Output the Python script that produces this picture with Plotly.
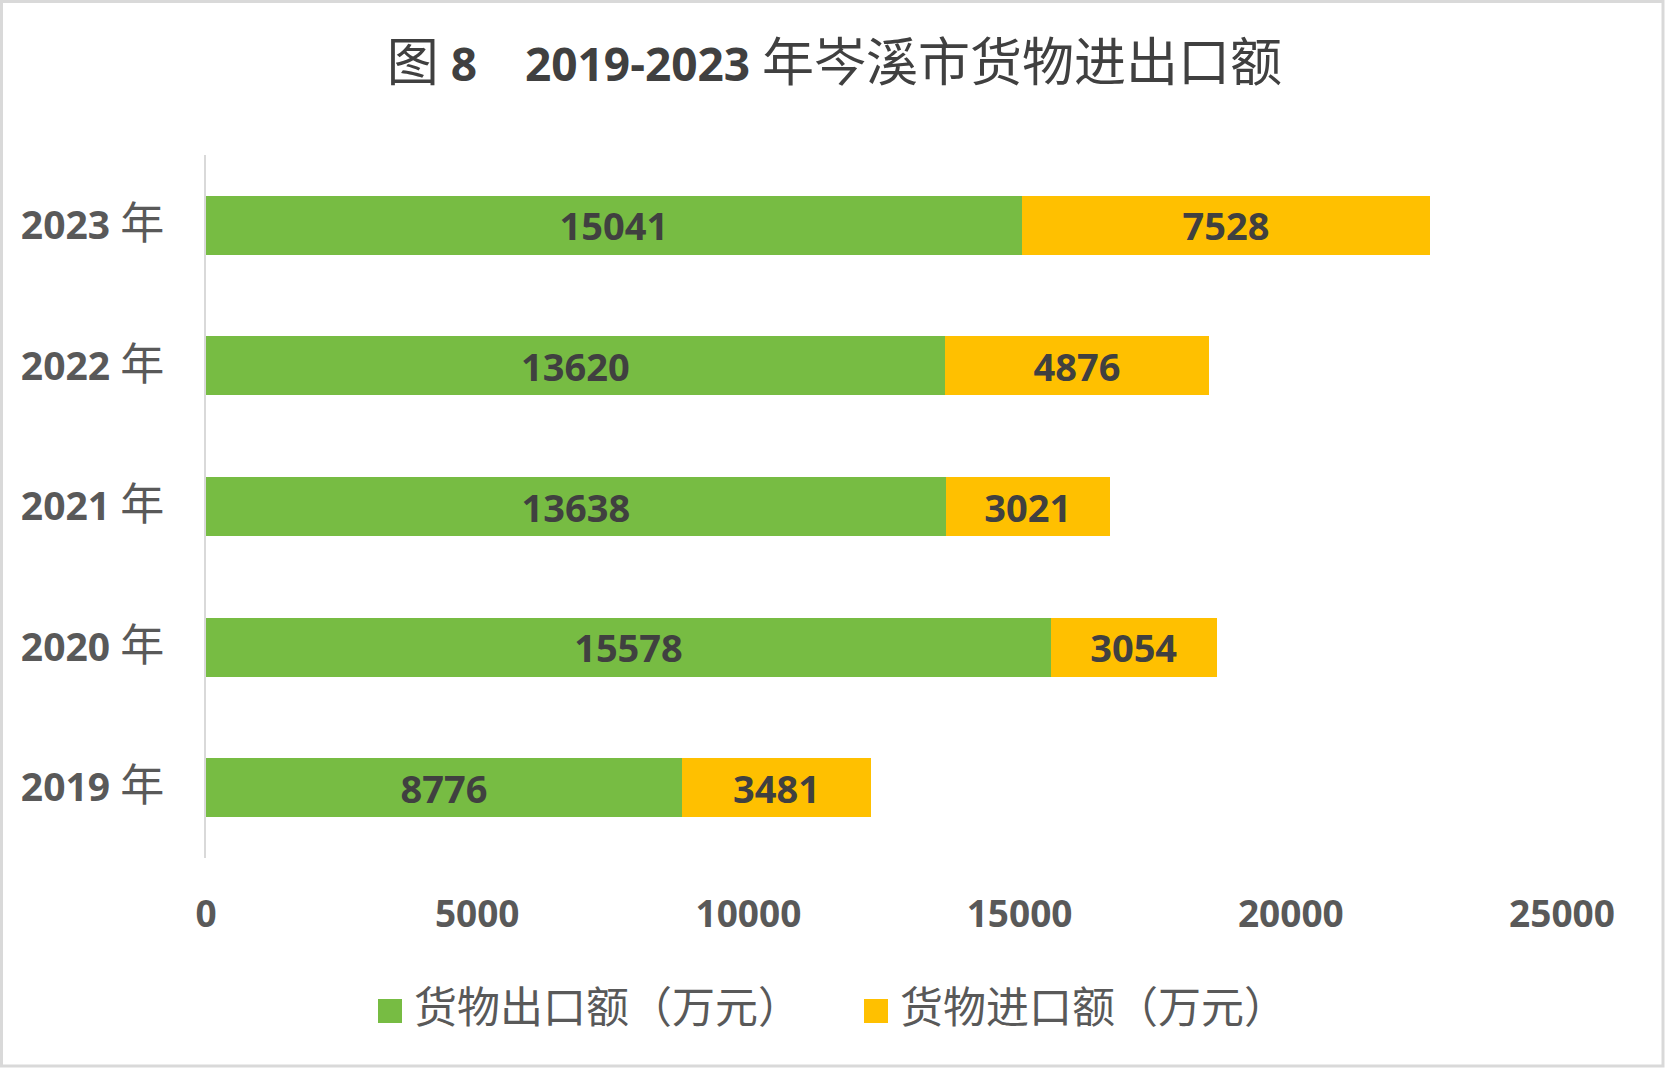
import plotly.graph_objects as go

years = ["2019", "2020", "2021", "2022", "2023"]
export_vals = [8776, 15578, 13638, 13620, 15041]
import_vals = [3481, 3054, 3021, 4876, 7528]
series_names = ["货物出口额（万元）", "货物进口额（万元）"]
series_colors = ["#77BC43", "#FFC000"]
x_ticks = [0, 5000, 10000, 15000, 20000, 25000]

CJK_BIG = '<span style="font-size:52px">{}</span>'
title_text = (CJK_BIG.format("图") + " <b>8</b>&nbsp;&nbsp;&nbsp; <b>2019-2023</b> "
              + CJK_BIG.format("年岑溪市货物进出口额"))

cats = [f"{y} 年" for y in years]
cat_text = [f'<b>{y}</b> <span style="font-size:44px">年</span>' for y in years]

W, H = 1669, 1074
L, R, T, B = 206, 107, 155, 216

font_fam = "Open Sans, Noto Sans CJK SC, sans-serif"
label_font = dict(family=font_fam, size=38, color="#404040")

fig = go.Figure()
for name, vals, col in zip(series_names, [export_vals, import_vals], series_colors):
    fig.add_trace(go.Bar(
        y=cats, x=vals, orientation="h", name=name,
        marker=dict(color=col, line=dict(width=0)),
        text=[f"<b>{v}</b>" for v in vals], textposition="inside",
        insidetextanchor="middle", textangle=0, textfont=label_font,
        hoverinfo="x+name", showlegend=False,
    ))

pw = W - L - R
ph = H - T - B
def px_x(p):
    return (p - L) / pw
def px_y(p):
    return (H - B - p) / ph

shapes = [dict(type="rect", xref="paper", yref="paper",
               x0=px_x(1.5), x1=px_x(1663), y0=px_y(1066), y1=px_y(1.5),
               line=dict(color="#D9D9D9", width=3), fillcolor="rgba(0,0,0,0)",
               layer="below")]
annotations = []
# legend (custom, to get Excel-sized square keys)
legend_keys_x = [378, 864]
for name, col, kx in zip(series_names, series_colors, legend_keys_x):
    shapes.append(dict(type="rect", xref="paper", yref="paper",
                       x0=px_x(kx), x1=px_x(kx + 24), y0=px_y(1023), y1=px_y(999),
                       line=dict(width=0), fillcolor=col))
    annotations.append(dict(xref="paper", yref="paper", x=px_x(kx + 34), y=px_y(1004),
                            xanchor="left", yanchor="middle", showarrow=False,
                            text=name,
                            font=dict(family="Noto Sans CJK SC, sans-serif", size=43,
                                      color="#595959")))

fig.update_layout(
    width=W, height=H,
    margin=dict(l=L, r=R, t=T, b=B, autoexpand=False),
    paper_bgcolor="white", plot_bgcolor="white",
    barmode="stack", bargap=0.58,
    showlegend=False,
    title=dict(text=title_text, x=0.5, xref="container", xanchor="center",
               y=1 - 65 / H, yref="container", yanchor="middle",
               font=dict(family=font_fam, size=46, color="#404040")),
    xaxis=dict(range=[0, 25000], tickvals=x_ticks,
               ticktext=[f"<b>{v}</b>" for v in x_ticks],
               showgrid=False, zeroline=False, showline=False,
               ticks="", ticklabelstandoff=31,
               tickfont=dict(family=font_fam, size=37, color="#595959"),
               fixedrange=True),
    yaxis=dict(categoryorder="array", categoryarray=cats,
               tickvals=cats, ticktext=cat_text,
               showgrid=False, zeroline=False,
               showline=True, linecolor="#D9D9D9", linewidth=2,
               ticks="", ticklabelstandoff=32,
               tickfont=dict(family=font_fam, size=39, color="#595959"),
               fixedrange=True),
    shapes=shapes,
    annotations=annotations,
)

fig.write_html("out.html", config={"displayModeBar": False},
               post_script="document.body.style.margin='0';")
